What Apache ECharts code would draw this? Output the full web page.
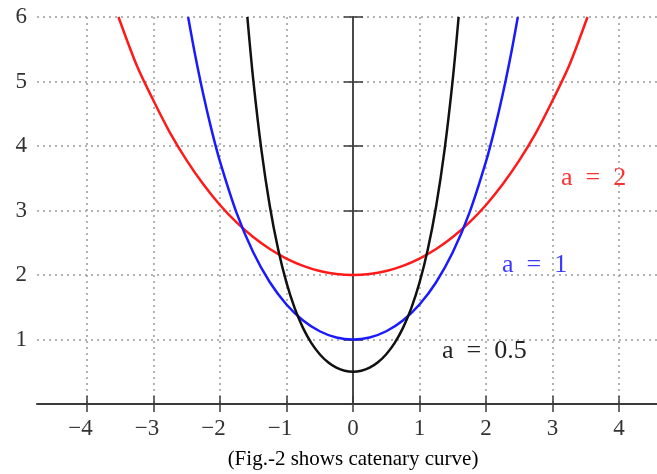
<!DOCTYPE html>
<html>
<head>
<meta charset="utf-8">
<script src="https://cdn.jsdelivr.net/npm/echarts@6/dist/echarts.min.js"></script>
<style>
  html, body { margin: 0; padding: 0; background: #fff; }
  #chart { width: 657px; height: 474px; }
</style>
</head>
<body>
<div id="chart"></div>
<script>
// catenary curves, y = height at each x
const a2X = [-3.525, -3.25, -3, -2.75, -2.5, -2.25, -2, -1.75, -1.5, -1.25, -1, -0.75, -0.5, -0.25, 0,
  0.25, 0.5, 0.75, 1, 1.25, 1.5, 1.75, 2, 2.25, 2.5, 2.75, 3, 3.25, 3.525];
const a2Y = [6.0, 5.248, 4.705, 4.204, 3.777, 3.407, 3.086, 2.816, 2.589, 2.403, 2.255, 2.142, 2.063, 2.016, 2.0,
  2.016, 2.063, 2.142, 2.255, 2.403, 2.589, 2.816, 3.086, 3.407, 3.777, 4.204, 4.705, 5.248, 6.0];

const a1X = [-2.478, -2.375, -2.25, -2.125, -2, -1.75, -1.5, -1.25, -1, -0.75, -0.5, -0.25, 0,
  0.25, 0.5, 0.75, 1, 1.25, 1.5, 1.75, 2, 2.125, 2.25, 2.375, 2.478];
const a1Y = [6.0, 5.422, 4.797, 4.246, 3.762, 2.964, 2.352, 1.888, 1.543, 1.295, 1.128, 1.031, 1.0,
  1.031, 1.128, 1.295, 1.543, 1.888, 2.352, 2.964, 3.762, 4.246, 4.797, 5.422, 6.0];

const a05X = [-1.588, -1.5, -1.375, -1.25, -1.125, -1, -0.875, -0.75, -0.625, -0.5, -0.375, -0.25, -0.125, 0,
  0.125, 0.25, 0.375, 0.5, 0.625, 0.75, 0.875, 1, 1.125, 1.25, 1.375, 1.5, 1.588];
const a05Y = [6.0, 5.034, 3.927, 3.066, 2.398, 1.881, 1.482, 1.176, 0.944, 0.772, 0.647, 0.564, 0.516, 0.5,
  0.516, 0.564, 0.647, 0.772, 0.944, 1.176, 1.482, 1.881, 2.398, 3.066, 3.927, 5.034, 6.0];

const xTicks = [-4, -3, -2, -1, 0, 1, 2, 3, 4];

const serif = "'Liberation Serif', 'DejaVu Serif', serif";
const gridDots = { color: "#9a9a9a", width: 1.5, type: [2, 4] };

const chart = echarts.init(document.getElementById("chart"));

const pairs = (xs, ys) => xs.map((x, i) => [x, ys[i]]);

const curve = (name, color, xs, ys) => ({
  name: name,
  type: "line",
  xAxisIndex: 0,
  yAxisIndex: 0,
  data: pairs(xs, ys),
  smooth: 0.3,
  showSymbol: false,
  lineStyle: { color: color, width: 2.5 },
  itemStyle: { color: color },
  emphasis: { disabled: true },
  z: 5
});

chart.setOption({
  animation: false,
  grid: { left: 37, right: 0, top: 17, bottom: 70, outerBoundsMode: "none" },
  xAxis: [
    {
      type: "value",
      min: -4.75,
      max: 4.57,
      position: "bottom",
      axisLine: { onZero: true, onZeroAxisIndex: 0, lineStyle: { color: "#3a3a3a", width: 2 } },
      axisTick: { customValues: xTicks, length: 8, lineStyle: { color: "#3a3a3a", width: 1.5 } },
      axisLabel: {
        customValues: xTicks,
        margin: 13,
        fontFamily: serif,
        fontSize: 23,
        color: "#333",
        formatter: (v) => (v < 0 ? "−{d|" + (-v) + "}" : String(v)),
        rich: { d: { fontFamily: serif, fontSize: 23, color: "#333", padding: [0, 13, 0, 0] } }
      },
      splitLine: { show: true, lineStyle: gridDots }
    },
    {
      type: "value",
      min: -4.75,
      max: 4.57,
      position: "bottom",
      axisLine: { show: false, onZero: true, onZeroAxisIndex: 0 },
      axisTick: { customValues: xTicks, inside: true, length: 8, lineStyle: { color: "#3a3a3a", width: 1.5 } },
      axisLabel: { show: false },
      splitLine: { show: false }
    }
  ],
  yAxis: [
    {
      type: "value",
      min: 0,
      max: 6,
      interval: 1,
      position: "left",
      axisLine: { show: false, onZero: false },
      axisTick: { show: false },
      axisLabel: {
        margin: 10,
        fontFamily: serif,
        fontSize: 23,
        color: "#333",
        formatter: (v) => (v === 0 ? "" : String(v))
      },
      splitLine: { show: true, lineStyle: gridDots }
    },
    {
      type: "value",
      min: 0,
      max: 6,
      interval: 1,
      position: "left",
      axisLine: { show: true, onZero: true, onZeroAxisIndex: 0, lineStyle: { color: "#4a4a4a", width: 2 } },
      axisTick: { inside: true, length: 10, lineStyle: { color: "#3a3a3a", width: 1.5 } },
      axisLabel: { show: false },
      splitLine: { show: false }
    },
    {
      type: "value",
      min: 0,
      max: 6,
      interval: 1,
      position: "left",
      axisLine: { show: false, onZero: true, onZeroAxisIndex: 0 },
      axisTick: { inside: false, length: 9, lineStyle: { color: "#3a3a3a", width: 1.5 } },
      axisLabel: { show: false },
      splitLine: { show: false }
    }
  ],
  series: [
    curve("a=2", "#ff1a1a", a2X, a2Y),
    curve("a=1", "#1a1aff", a1X, a1Y),
    curve("a=0.5", "#111111", a05X, a05Y)
  ],
  graphic: [
    {
      type: "text", x: 561, y: 178,
      style: { text: "a\u2002=\u20022", fill: "#ff3030", font: "26px " + serif, textAlign: "left", textVerticalAlign: "middle" }
    },
    {
      type: "text", x: 502, y: 265,
      style: { text: "a\u2002=\u20021", fill: "#3a3aff", font: "26px " + serif, textAlign: "left", textVerticalAlign: "middle" }
    },
    {
      type: "text", x: 442, y: 351,
      style: { text: "a\u2002=\u20020.5", fill: "#222", font: "26px " + serif, textAlign: "left", textVerticalAlign: "middle" }
    },
    {
      type: "text", x: 353, y: 459,
      style: { text: "(Fig.-2 shows catenary curve)", fill: "#000", font: "21px " + serif, textAlign: "center", textVerticalAlign: "middle" }
    }
  ]
});
</script>
</body>
</html>
